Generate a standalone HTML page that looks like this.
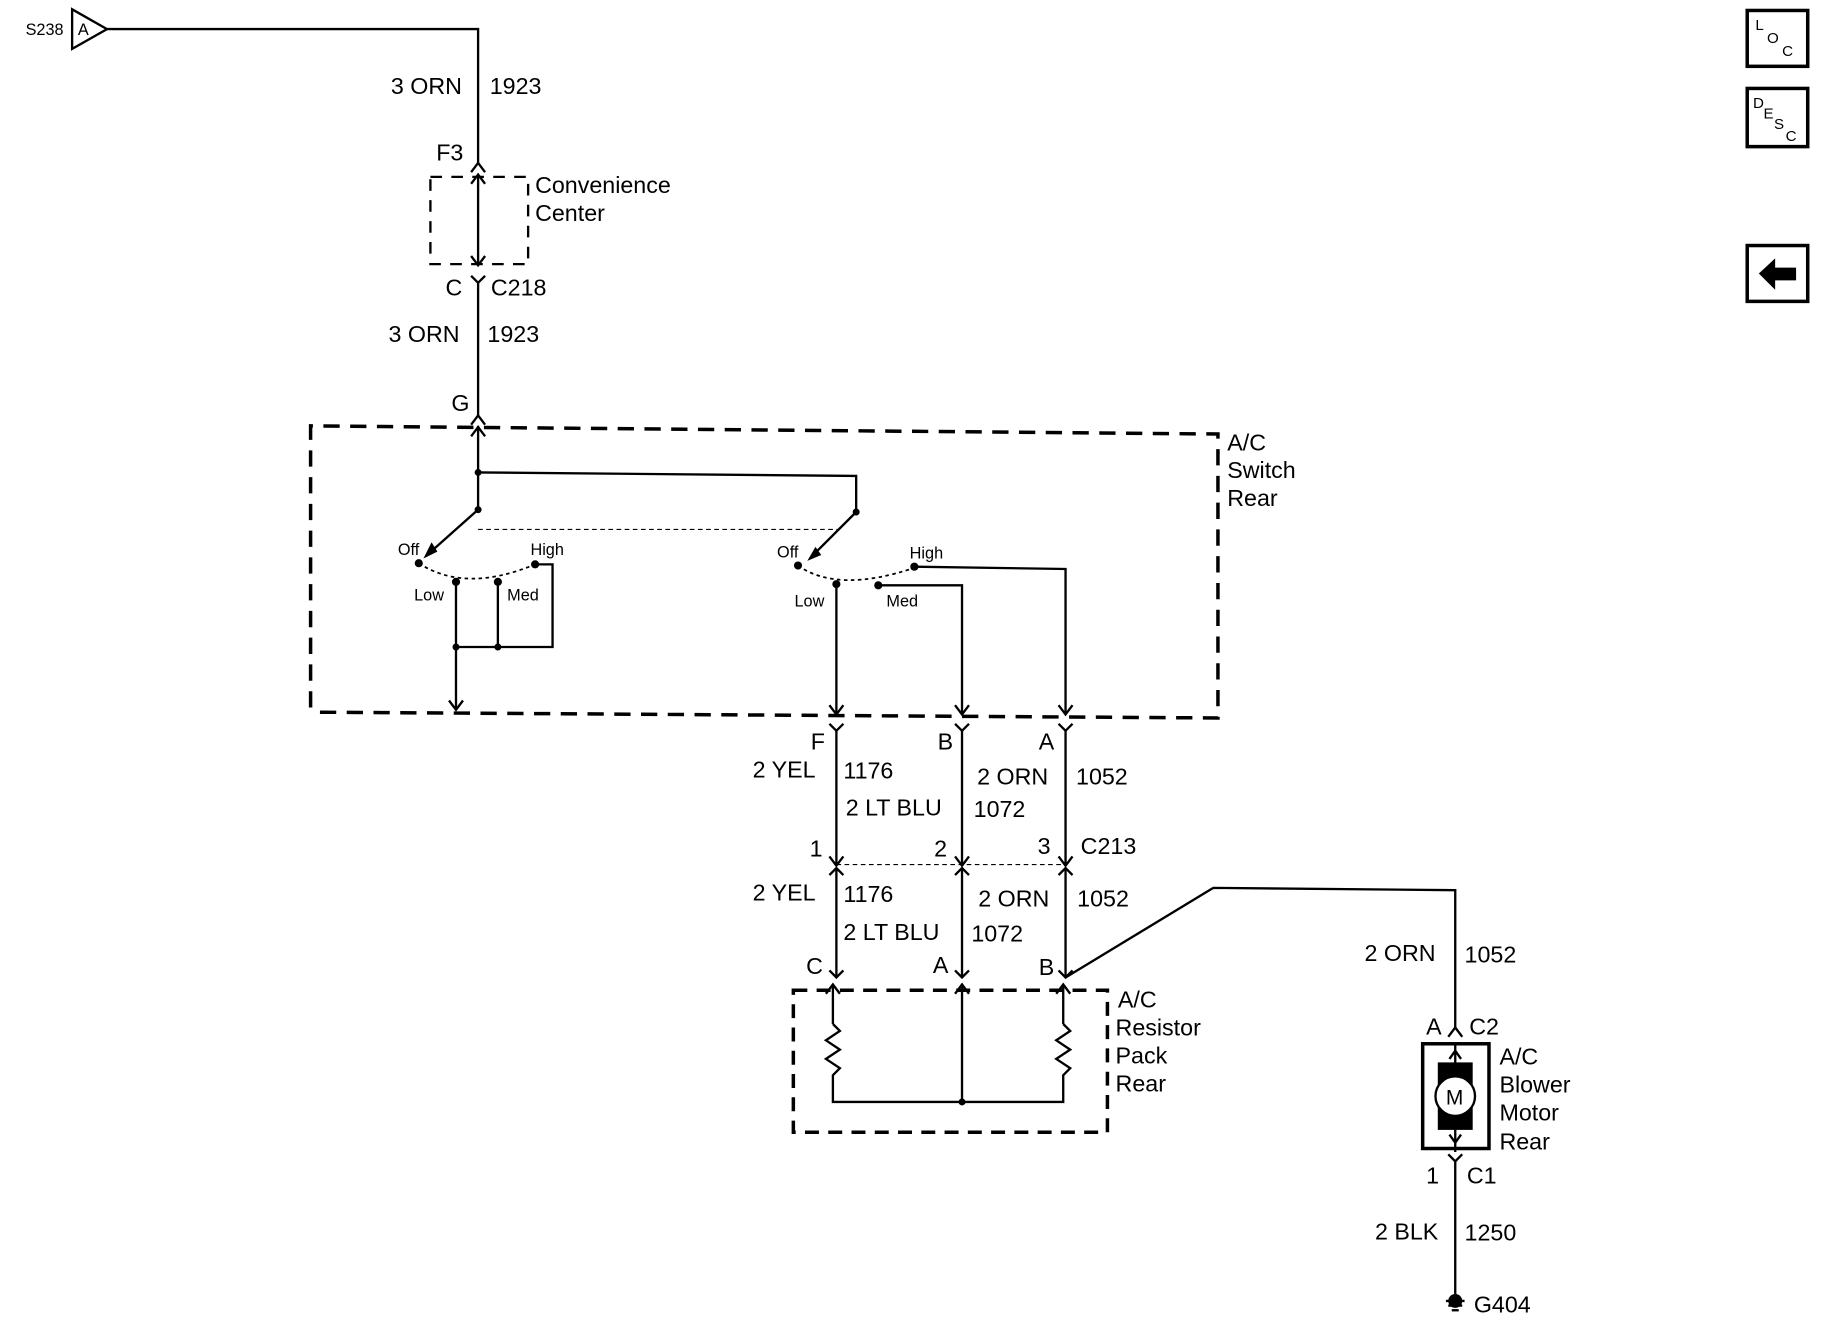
<!DOCTYPE html>
<html><head><meta charset="utf-8"><style>
html,body{margin:0;padding:0;background:#fff;}
svg{display:block;}
text{font-family:"Liberation Sans",Arial,sans-serif;fill:#000;}
</style></head><body>
<svg width="1824" height="1344" viewBox="0 0 1568 1155" preserveAspectRatio="none" xmlns="http://www.w3.org/2000/svg">
<g stroke="#000" stroke-width="2" fill="none">
<polygon points="62,8 62,42 92,25"/>
<polyline points="92,25 411,25 411,140"/>
<path d="M405,148 L411,140 L417,148"/>
<rect x="370" y="152" width="84" height="75" stroke-dasharray="10,8"/>
<line x1="411" y1="150" x2="411" y2="228"/>
<path d="M405,158 L411,150 L417,158 M405,220 L411,228 L417,220 M405,237 L411,243 L417,237"/>
<line x1="411" y1="243" x2="411" y2="357"/>
<path d="M405,365 L411,357 L417,365"/>
<polyline points="267,608 267,366 1047,373 1047,617 267,612" stroke-dasharray="14,9" stroke-width="3"/>
<line x1="411" y1="366" x2="411" y2="438"/>
<path d="M405,375 L411,367 L417,375"/>
<polyline points="411,406 736,409 736,440"/>
<line x1="411" y1="438" x2="366" y2="478"/>
<line x1="736" y1="440" x2="698" y2="478"/>
<line x1="411" y1="455" x2="720" y2="455" stroke-width="1" stroke-dasharray="4,3"/>
<path d="M360,484 Q400,510 460,485" stroke-width="1.5" stroke-dasharray="3,3"/>
<path d="M686,486 Q720,510 786,488" stroke-width="1.5" stroke-dasharray="3,3"/>
<polyline points="392,500 392,610"/>
<polyline points="428,500 428,556 392,556"/>
<polyline points="460,485 475,485 475,556 428,556"/>
<path d="M386,602 L392,610 L398,602"/>
<polyline points="719,502 719,614"/>
<polyline points="755,503 827,503 827,614"/>
<polyline points="786,487 916,489 916,614"/>
<path d="M713,606 L719,614 L725,606 M821,606 L827,614 L833,606 M910,606 L916,614 L922,606"/>
<path d="M713,622 L719,628 L725,622 M821,622 L827,628 L833,622 M910,622 L916,628 L922,622"/>
<line x1="719" y1="628" x2="719" y2="744"/>
<line x1="827" y1="628" x2="827" y2="744"/>
<line x1="916" y1="628" x2="916" y2="744"/>
<path d="M713,736 L719,744 L725,736 M821,736 L827,744 L833,736 M910,736 L916,744 L922,736"/>
<line x1="719" y1="743" x2="916" y2="743" stroke-width="1" stroke-dasharray="4,3"/>
<path d="M713,752 L719,746 L725,752 M821,752 L827,746 L833,752 M910,752 L916,746 L922,752"/>
<line x1="719" y1="746" x2="719" y2="840"/>
<line x1="827" y1="746" x2="827" y2="840"/>
<line x1="916" y1="746" x2="916" y2="840"/>
<path d="M713,834 L719,840 L725,834 M821,834 L827,840 L833,834 M910,834 L916,840 L922,834"/>
<polyline points="916,840 1043,763 1251,765 1251,883"/>
<rect x="682" y="851" width="270" height="122" stroke-dasharray="12,8" stroke-width="3"/>
<line x1="716" y1="846" x2="716" y2="880"/>
<line x1="827" y1="846" x2="827" y2="947"/>
<line x1="914" y1="846" x2="914" y2="880"/>
<path d="M710,854 L716,846 L722,854 M821,854 L827,846 L833,854 M908,854 L914,846 L920,854"/>
<polyline points="716,880 722,886 710,894 722,902 710,910 722,918 716,924 716,947 914,947 914,924 920,918 908,910 920,902 908,894 920,886 914,880"/>
<path d="M1245,891 L1251,883 L1257,891"/>
<rect x="1223" y="897" width="57" height="90" stroke-width="3"/>
<rect x="1237" y="914" width="28" height="56" fill="#000"/>
<circle cx="1251" cy="942" r="17" fill="#fff"/>
<line x1="1251" y1="897" x2="1251" y2="914"/>
<path d="M1246,910 L1251,903 L1256,910 M1246,975 L1251,982 L1256,975"/>
<line x1="1251" y1="970" x2="1251" y2="990"/>
<path d="M1245,992 L1251,998 L1257,992"/>
<line x1="1251" y1="998" x2="1251" y2="1118"/>
<line x1="1243" y1="1118" x2="1259" y2="1118"/>
<line x1="1245" y1="1122" x2="1257" y2="1122"/>
<line x1="1248" y1="1126" x2="1254" y2="1126"/>
<rect x="1502" y="9" width="52" height="48" stroke-width="3"/>
<rect x="1502" y="76" width="52" height="50" stroke-width="3"/>
<rect x="1502" y="211" width="52" height="48" stroke-width="3"/>
</g>
<g fill="#000">
<circle cx="411" cy="406" r="3"/><circle cx="411" cy="438" r="3"/><circle cx="736" cy="440" r="3"/>
<circle cx="360" cy="484" r="3.5"/><circle cx="392" cy="500" r="3.5"/><circle cx="428" cy="500" r="3.5"/><circle cx="460" cy="485" r="3.5"/>
<circle cx="392" cy="556" r="3"/><circle cx="428" cy="556" r="3"/>
<circle cx="686" cy="486" r="3.5"/><circle cx="719" cy="502" r="3.5"/><circle cx="755" cy="503" r="3.5"/><circle cx="786" cy="487" r="3.5"/>
<circle cx="827" cy="947" r="3"/>
<polygon points="364,480 371,466 376,474"/>
<polygon points="694,482 701,470 706,477"/>
<circle cx="1251" cy="1118" r="6"/>
<polygon points="1512,235 1526,222 1526,230 1544,230 1544,241 1526,241 1526,249"/>
</g>
<g font-size="20">
<text x="22" y="30" font-size="14">S238</text><text x="67" y="30" font-size="14">A</text>
<text x="336" y="81">3 ORN</text><text x="421" y="81">1923</text>
<text x="375" y="138">F3</text>
<text x="460" y="166">Convenience</text><text x="460" y="190">Center</text>
<text x="383" y="254">C</text><text x="422" y="254">C218</text>
<text x="334" y="294">3 ORN</text><text x="419" y="294">1923</text>
<text x="388" y="353">G</text>
<text x="1055" y="387">A/C</text><text x="1055" y="411">Switch</text><text x="1055" y="435">Rear</text>
<text x="342" y="477" font-size="14">Off</text><text x="456" y="477" font-size="14">High</text>
<text x="356" y="516" font-size="14">Low</text><text x="436" y="516" font-size="14">Med</text>
<text x="668" y="479" font-size="14">Off</text><text x="782" y="480" font-size="14">High</text>
<text x="683" y="521" font-size="14">Low</text><text x="762" y="521" font-size="14">Med</text>
<text x="697" y="644">F</text><text x="806" y="644">B</text><text x="893" y="644">A</text>
<text x="647" y="668">2 YEL</text><text x="725" y="669">1176</text>
<text x="840" y="674">2 ORN</text><text x="925" y="674">1052</text>
<text x="727" y="701">2 LT BLU</text><text x="837" y="702">1072</text>
<text x="696" y="736">1</text><text x="803" y="736">2</text><text x="892" y="734">3</text><text x="929" y="734">C213</text>
<text x="647" y="774">2 YEL</text><text x="725" y="775">1176</text>
<text x="841" y="779">2 ORN</text><text x="926" y="779">1052</text>
<text x="725" y="808">2 LT BLU</text><text x="835" y="809">1072</text>
<text x="693" y="837">C</text><text x="802" y="836">A</text><text x="893" y="838">B</text>
<text x="961" y="866">A/C</text><text x="959" y="890">Resistor</text><text x="959" y="914">Pack</text><text x="959" y="938">Rear</text>
<text x="1173" y="826">2 ORN</text><text x="1259" y="827">1052</text>
<text x="1226" y="889">A</text><text x="1263" y="889">C2</text>
<text x="1289" y="915">A/C</text><text x="1289" y="939">Blower</text><text x="1289" y="963">Motor</text><text x="1289" y="988">Rear</text>
<text x="1243" y="949" font-size="18">M</text>
<text x="1226" y="1017">1</text><text x="1261" y="1017">C1</text>
<text x="1182" y="1065">2 BLK</text><text x="1259" y="1066">1250</text>
<text x="1267" y="1128">G404</text>
<text x="1509" y="26" font-size="13">L</text><text x="1519" y="37" font-size="13">O</text><text x="1532" y="48" font-size="13">C</text>
<text x="1507" y="93" font-size="13">D</text><text x="1516" y="102" font-size="13">E</text><text x="1525" y="111" font-size="13">S</text><text x="1535" y="121" font-size="13">C</text>
</g>
</svg>
</body></html>
